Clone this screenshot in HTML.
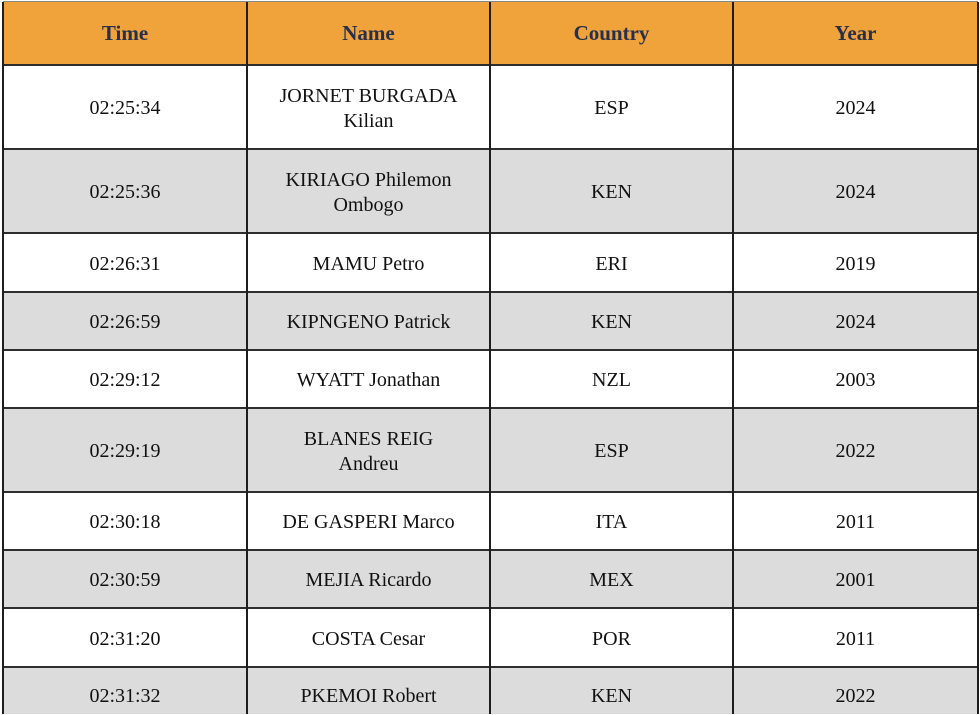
<!DOCTYPE html>
<html><head><style>
html,body{margin:0;width:980px;height:715px;background:#fff;overflow:hidden;font-family:"Liberation Serif",serif;}
.c{position:absolute;display:flex;align-items:center;justify-content:center;text-align:center;font-size:20px;color:#111;line-height:25px;box-sizing:border-box;padding-top:3px;}
.h{background:#F0A23B;color:#27304a;font-weight:bold;font-size:21px;padding-top:0;}
.g{background:#dcdcdc;}
.hl{position:absolute;left:3px;width:975px;height:2px;background:#2e2e2e;}
.vl{position:absolute;top:2px;width:2px;height:712px;background:#1e1e1e;}
</style></head><body>
<div id="t"></div>
<script>
var rows=[["Time","Name","Country","Year"],
["02:25:34","JORNET BURGADA<br>Kilian","ESP","2024"],
["02:25:36","KIRIAGO Philemon<br>Ombogo","KEN","2024"],
["02:26:31","MAMU Petro","ERI","2019"],
["02:26:59","KIPNGENO Patrick","KEN","2024"],
["02:29:12","WYATT Jonathan","NZL","2003"],
["02:29:19","BLANES REIG<br>Andreu","ESP","2022"],
["02:30:18","DE GASPERI Marco","ITA","2011"],
["02:30:59","MEJIA Ricardo","MEX","2001"],
["02:31:20","COSTA Cesar","POR","2011"],
["02:31:32","PKEMOI Robert","KEN","2022"]];
var ys=[2,65,149,233,292,350,408,492,550,608,667,714];
var xs=[3,247,490,733,978];
var h="";
for(var r=0;r<rows.length;r++){
 var cls=r==0?"c h":(r%2==0?"c g":"c");
 var hh=ys[r+1]-ys[r];
 var pad=(r==rows.length-1)?'align-items:flex-start;padding-top:17px;':'';
 for(var c=0;c<4;c++){
  h+='<div class="'+cls+'" style="'+pad+'left:'+xs[c]+'px;top:'+ys[r]+'px;width:'+(xs[c+1]-xs[c])+'px;height:'+hh+'px">'+rows[r][c]+'</div>';
 }
 if(r>0)h+='<div class="hl" style="top:'+(ys[r]-1)+'px"></div>';
}
h+='<div class="hl" style="top:1px;background:#888;height:1px"></div>';
for(var i=0;i<xs.length;i++)h+='<div class="vl" style="left:'+(xs[i]-1)+'px"></div>';
document.getElementById("t").innerHTML=h;
</script>
</body></html>
